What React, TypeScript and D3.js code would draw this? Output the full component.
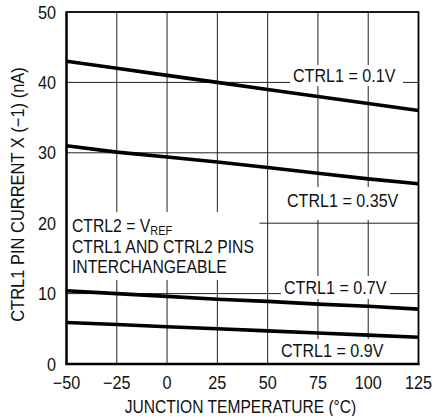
import React from "react";
import * as d3 from "d3";

const temps = [-50, -25, 0, 25, 50, 75, 100, 125];
const ctrl01 = [43.0, 42.0, 41.0, 40.0, 39.0, 38.0, 37.0, 36.0];
const ctrl035 = [31.0, 30.1, 29.4, 28.7, 27.9, 27.1, 26.3, 25.6];
const ctrl07 = [10.4, 10.0, 9.6, 9.2, 8.9, 8.5, 8.2, 7.8];
const ctrl09 = [5.9, 5.6, 5.3, 5.0, 4.7, 4.4, 4.1, 3.8];
const xTicks = [-50, -25, 0, 25, 50, 75, 100, 125];
const yTicks = [0, 10, 20, 30, 40, 50];
const seriesLabels = ["CTRL1 = 0.1V", "CTRL1 = 0.35V", "CTRL1 = 0.7V", "CTRL1 = 0.9V"];

const W = 433;
const H = 416;
const FONT = "'Liberation Sans', Arial, Helvetica, sans-serif";

type TxtProps = {
  x: number;
  y: number;
  size: number;
  sx: number;
  anchor?: "start" | "middle" | "end";
  rotate?: number;
  children: React.ReactNode;
};

function Txt({ x, y, size, sx, anchor = "start", rotate = 0, children }: TxtProps) {
  return (
    <text
      transform={`translate(${x},${y}) rotate(${rotate}) scale(${sx},1)`}
      fontFamily={FONT}
      fontSize={size}
      fill="#111"
      textAnchor={anchor}
    >
      {children}
    </text>
  );
}

export default function App() {
  const x = d3.scaleLinear().domain([-50, 125]).range([66.5, 418.5]);
  const y = d3.scaleLinear().domain([0, 50]).range([364, 12]);
  const line = d3
    .line<[number, number]>()
    .x((d) => x(d[0]))
    .y((d) => y(d[1]));
  const series = [ctrl01, ctrl035, ctrl07, ctrl09].map((vals) =>
    vals.map((v, i) => [temps[i], v] as [number, number])
  );

  const labels = [
    { text: seriesLabels[0], box: [290, 65, 113, 21], tx: 293, ty: 82 },
    { text: seriesLabels[1], box: [282, 187, 121, 33], tx: 287, ty: 207 },
    { text: seriesLabels[2], box: [281, 276, 109, 23], tx: 284, ty: 294 },
    { text: seriesLabels[3], box: [278, 339, 110, 24], tx: 281, ty: 357 },
  ];

  return (
    <div style={{ position: "absolute", left: 0, top: 0 }}>
      <svg width={W} height={H} style={{ display: "block", background: "#fff" }}>
        <rect x={0} y={0} width={W} height={H} fill="#fff" />
        <g stroke="#222" strokeWidth={1}>
          {xTicks.slice(1, -1).map((t) => (
            <line key={"gx" + t} x1={x(t)} x2={x(t)} y1={y(50)} y2={y(0)} />
          ))}
          {yTicks.slice(1, -1).map((t) => (
            <line key={"gy" + t} x1={x(-50)} x2={x(125)} y1={y(t)} y2={y(t)} />
          ))}
        </g>
        {labels.map((l, i) => (
          <rect key={"m" + i} x={l.box[0]} y={l.box[1]} width={l.box[2]} height={l.box[3]} fill="#fff" />
        ))}
        <rect x={67.5} y={212} width={192} height={68} fill="#fff" />
        {series.map((s, i) => (
          <path key={"s" + i} d={line(s) || ""} fill="none" stroke="#000" strokeWidth={3.6} />
        ))}
        <rect
          x={x(-50)}
          y={y(50)}
          width={x(125) - x(-50)}
          height={y(0) - y(50)}
          fill="none"
          stroke="#000"
          strokeWidth={1.8}
        />
        <line x1={x(-50) - 1} x2={x(125) + 1} y1={y(0)} y2={y(0)} stroke="#000" strokeWidth={2.6} />
        <line x1={x(-50)} x2={x(-50)} y1={y(50)} y2={y(0)} stroke="#000" strokeWidth={2.2} />
        {labels.map((l, i) => (
          <Txt key={"t" + i} x={l.tx} y={l.ty} size={18.5} sx={0.87}>
            {l.text}
          </Txt>
        ))}
        <Txt x={72} y={232} size={18} sx={0.875}>
          CTRL2 = V
          <tspan fontSize={12.5} dy={3}>
            REF
          </tspan>
        </Txt>
        <Txt x={72} y={253} size={18} sx={0.875}>
          CTRL1 AND CTRL2 PINS
        </Txt>
        <Txt x={72} y={273} size={18} sx={0.875}>
          INTERCHANGEABLE
        </Txt>
        {yTicks.map((t) => (
          <Txt key={"yt" + t} x={56} y={y(t) + 6.5} size={18} sx={0.9} anchor="end">
            {t}
          </Txt>
        ))}
        {xTicks.map((t) => (
          <Txt key={"xt" + t} x={x(t)} y={389} size={18} sx={0.9} anchor="middle">
            {t < 0 ? "\u2212" + Math.abs(t) : String(t)}
          </Txt>
        ))}
        <Txt x={240.5} y={413} size={18} sx={0.866} anchor="middle">
          JUNCTION TEMPERATURE (°C)
        </Txt>
        <Txt x={24} y={194.5} size={18} sx={0.915} anchor="middle" rotate={-90}>
          CTRL1 PIN CURRENT X (−1) (nA)
        </Txt>
      </svg>
    </div>
  );
}
